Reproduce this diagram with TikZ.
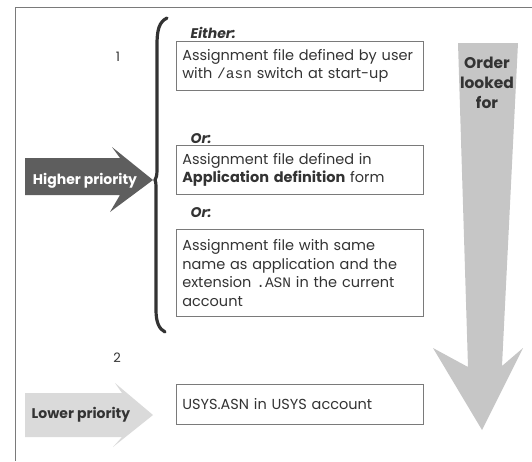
\documentclass[tikz,border=0pt]{standalone}
\usepackage{fontspec}
\setmainfont{Poppins}
\setmonofont{Liberation Mono}
\newcommand{\oneline}[1]{\mbox{#1}}
\begin{document}
\begin{tikzpicture}[x=1pt,y=-1pt,
  every node/.style={text=txt},
  entrybox/.style={draw=boxline, line width=0.6pt, anchor=north west, minimum width=247pt,
    text width=235pt, inner xsep=6pt, align=left, font=\fontsize{14.5}{18.5}\selectfont},
  headlabel/.style={anchor=west, font=\fontsize{14}{14}\selectfont\bfseries\itshape},
  numlabel/.style={font=\fontsize{13}{14}\selectfont},
  arrowlabel/.style={font=\fontsize{14}{14}\selectfont\bfseries, align=center}]
\definecolor{txt}{HTML}{333333}
\definecolor{boxline}{HTML}{7A7A7A}
\definecolor{darkarrow}{HTML}{5E5E5E}
\definecolor{lightarrow}{HTML}{DADADA}
\definecolor{midarrow}{HTML}{C6C6C6}
\useasboundingbox (0,0) rectangle (532,461);
% frame
\draw[boxline, line width=0.6pt] (532,7) -- (15,7) -- (15,461);
% brace
\draw[line width=3.2pt, black!80, line cap=round]
  (167,18) .. controls (159,22) and (157,30) .. (157,45) -- (157,170)
  .. controls (157,176) and (156,178) .. (155,180)
  .. controls (156,182) and (156,185) .. (156,191) -- (156,310)
  .. controls (156,322) and (159,329) .. (165,332);
% arrows
\fill[darkarrow] (25,158) -- (120,158) -- (112,147) -- (153,180) -- (110,212) -- (120,195) -- (25,195) -- cycle;
\fill[lightarrow] (25,393) -- (122,393) -- (115,383) -- (153,415) -- (113,447) -- (122,437) -- (25,437) -- cycle;
\fill[midarrow] (458,43) -- (518,43) -- (502,366) -- (523,348) -- (482,430) -- (433,348) -- (468,367) -- cycle;
% arrow labels
\node[arrowlabel, text=white] (hp) at (85,181) {Higher priority};
\node[arrowlabel] (lp) at (81,415) {Lower priority};
\node[arrowlabel, font=\fontsize{15.5}{20}\selectfont\bfseries] (ol) at (487,83) {Order\\looked\\for};
% numbers and headings
\node[numlabel] (n1) at (118,57) {1};
\node[numlabel] (n2) at (117,358) {2};
\node[headlabel] (h1) at (187,33) {Either:};
\node[headlabel] (h2) at (187,139) {Or:};
\node[headlabel] (h3) at (187,213) {Or:};
% boxes
\node[entrybox, minimum height=49pt] (b1) at (176,41)
  {\oneline{Assignment file defined by user}\\\oneline{with \texttt{/asn} switch at start-up}};
\node[entrybox, minimum height=49pt] (b2) at (176,145)
  {\oneline{Assignment file defined in}\\\oneline{\textbf{Application definition} form}};
\node[entrybox, minimum height=87pt] (b3) at (176,229)
  {\oneline{Assignment file with same}\\\oneline{name as application and the}\\\oneline{extension \texttt{.ASN} in the current}\\\oneline{account}};
\node[entrybox, minimum height=40pt] (b4) at (176,384)
  {\oneline{USYS.ASN in USYS account}};
\end{tikzpicture}
\end{document}
